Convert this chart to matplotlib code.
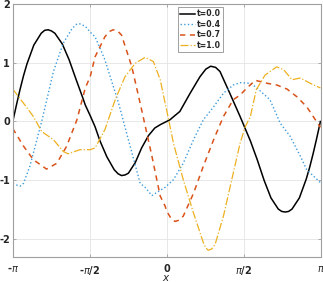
import numpy as np
import matplotlib
matplotlib.use("Agg")
import matplotlib.pyplot as plt

# ---- data ----
x_t00 = [-3.14, -3.06, -2.99, -2.92, -2.85, -2.71, -2.56, -2.49, -2.42, -2.35, -2.28, -2.13,
         -1.99, -1.85, -1.71, -1.66, -1.56, -1.46, -1.36, -1.22, -1.07, -0.99, -0.92, -0.85,
         -0.78, -0.64, -0.51, -0.37, -0.24, -0.12, 0.00, 0.07, 0.14, 0.27, 0.48, 0.68, 0.80,
         0.90, 1.00, 1.09, 1.29, 1.50, 1.71, 1.85, 1.99, 2.13, 2.28, 2.35, 2.42, 2.49, 2.56,
         2.71, 2.85, 2.92, 2.99, 3.06, 3.14]
y_t00 = [0.00, 0.30, 0.55, 0.78, 0.98, 1.30, 1.50, 1.55, 1.56, 1.54, 1.50, 1.32,
         1.05, 0.72, 0.40, 0.28, 0.10, -0.09, -0.33, -0.60, -0.82, -0.89, -0.92, -0.91,
         -0.88, -0.70, -0.45, -0.24, -0.11, -0.05, 0.00, 0.03, 0.08, 0.17, 0.48, 0.76, 0.89,
         0.94, 0.92, 0.85, 0.48, 0.085, -0.33, -0.65, -1.00, -1.30, -1.49, -1.53, -1.54, -1.53,
         -1.49, -1.30, -0.98, -0.78, -0.55, -0.30, 0.00]

x_t04 = [-3.14, -2.99, -2.92, -2.79, -2.55, -2.31, -2.11, -1.93, -1.83, -1.77, -1.66, -1.56,
         -1.46, -1.26, -1.15, -0.98, -0.78, -0.54, -0.44, -0.30, -0.13, -0.03, 0.14, 0.34,
         0.55, 0.75, 0.96, 1.16, 1.36, 1.50, 1.71, 1.83, 2.11, 2.32, 2.52, 2.73, 2.86, 3.14]
y_t04 = [-1.06, -1.10, -1.05, -0.76, 0.00, 0.85, 1.33, 1.58, 1.66, 1.66, 1.62, 1.52,
         1.44, 1.05, 0.76, 0.31, -0.31, -1.05, -1.12, -1.26, -1.17, -1.12, -0.99, -0.71,
         -0.31, 0.03, 0.25, 0.48, 0.62, 0.66, 0.65, 0.58, 0.37, -0.03, -0.25, -0.59, -0.82, -1.04]

x_t07 = [-3.14, -2.92, -2.72, -2.45, -2.24, -2.04, -1.83, -1.66, -1.56, -1.46, -1.26, -1.17,
         -1.09, -1.00, -0.92, -0.71, -0.51, -0.30, -0.13, -0.03, 0.00, 0.09, 0.17, 0.25,
         0.34, 0.55, 0.75, 0.96, 1.16, 1.36, 1.50, 1.64, 1.81, 2.05, 2.25, 2.46, 2.66, 2.86, 3.14]
y_t07 = [-0.12, -0.42, -0.65, -0.81, -0.71, -0.42, 0.03, 0.57, 0.76, 1.10, 1.44, 1.53,
         1.56, 1.54, 1.47, 0.93, 0.20, -0.59, -1.27, -1.44, -1.52, -1.65, -1.70, -1.68,
         -1.61, -1.22, -0.76, -0.31, 0.085, 0.37, 0.45, 0.57, 0.70, 0.65, 0.62, 0.55, 0.42, 0.25, -0.10]

x_t10 = [-3.14, -2.92, -2.72, -2.55, -2.31, -2.11, -2.01, -1.77, -1.56, -1.46, -1.26, -1.05,
         -0.85, -0.64, -0.44, -0.27, -0.13, -0.03, 0.00, 0.14, 0.34, 0.55, 0.75, 0.80, 0.85,
         0.92, 0.99, 1.16, 1.33, 1.50, 1.60, 1.71, 1.83, 2.01, 2.25, 2.39, 2.56, 2.73, 2.93, 3.14]
y_t10 = [0.55, 0.31, 0.085, -0.17, -0.31, -0.51, -0.55, -0.48, -0.48, -0.45, -0.14, 0.37,
         0.76, 0.99, 1.09, 1.02, 0.71, 0.31, 0.20, -0.37, -0.99, -1.56, -2.06, -2.15, -2.19,
         -2.17, -2.09, -1.61, -0.99, -0.37, -0.10, 0.085, 0.54, 0.79, 0.93, 0.88, 0.71, 0.74, 0.65, 0.57]

labels = ["t=0.0", "t=0.4", "t=0.7", "t=1.0"]
xtick_vals = [-np.pi, -np.pi / 2, 0, np.pi / 2, np.pi]
xtick_labels = [r"-$\pi$", r"-$\pi$/2", "0", r"$\pi$/2", r"$\pi$"]
ytick_vals = [-2, -1, 0, 1, 2]

# ---- figure ----
fig = plt.figure(figsize=(3.23, 2.82), dpi=100)
ax = fig.add_axes([0.0393, 0.0897, 0.953, 0.8965])

ax.plot(x_t00, y_t00, color="black", lw=1.1, ls="-", label=labels[0])
ax.plot(x_t04, y_t04, color="#3D9BDB", lw=1.0, ls=":", label=labels[1])
ax.plot(x_t07, y_t07, color="#D95319", lw=1.1, ls=(0, (3.5, 3)), label=labels[2])
ax.plot(x_t10, y_t10, color="#EDB120", lw=0.9, ls="-.", label=labels[3])

ax.set_xlim(-np.pi, np.pi)
ax.set_ylim(-2.3, 2)
ax.set_xticks(xtick_vals)
ax.set_xticklabels(xtick_labels)
ax.set_yticks(ytick_vals)
ax.set_yticklabels([str(v) for v in ytick_vals])

ax.grid(True, color="#e4e4e4", lw=0.6)
ax.set_axisbelow(True)
for s in ax.spines.values():
    s.set_color("#a0a0a0")
    s.set_linewidth(0.8)
ax.tick_params(direction="in", length=2.5, width=0.6, color="#a0a0a0",
               labelsize=7, labelcolor="#262626", pad=2, top=True, right=True)
for lab in ax.get_xticklabels() + ax.get_yticklabels():
    lab.set_fontweight("bold")
ax.tick_params(axis="x", pad=5)

ax.set_xlabel(r"$x$", fontsize=7.5, color="#262626", labelpad=-2.5)

leg = ax.legend(loc="upper left", bbox_to_anchor=(0.537, 0.988), borderaxespad=0,
                fontsize=5.6, handlelength=1.9, handletextpad=0.2, labelspacing=0.2,
                borderpad=0.3, fancybox=False, framealpha=1, edgecolor="#a0a0a0")
leg.get_frame().set_linewidth(0.7)
for t in leg.get_texts():
    t.set_fontweight("bold")
    t.set_color("#262626")

fig.savefig("out.png", dpi=100)
